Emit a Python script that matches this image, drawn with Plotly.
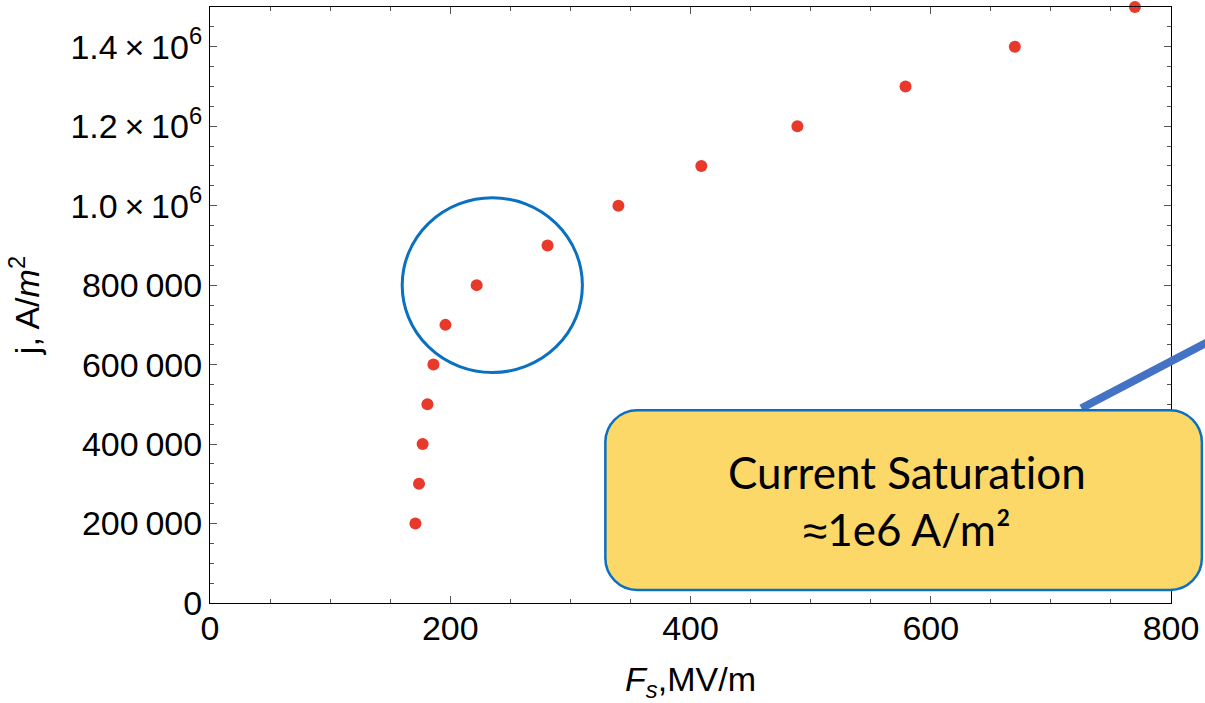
import plotly.graph_objects as go

# Emission current density versus surface field
field_mv_per_m = [171, 174, 177, 181, 186, 196, 222, 281, 340, 409, 489, 579, 670, 770]
current_density = [200000, 300000, 400000, 500000, 600000, 700000, 800000, 900000,
                   1000000, 1100000, 1200000, 1300000, 1400000, 1500000]

x_ticks = [0, 200, 400, 600, 800]
x_tick_text = ["0", "200", "400", "600", "800"]
y_ticks = [0, 200000, 400000, 600000, 800000, 1000000, 1200000, 1400000]
y_tick_text = ["0", "200\u2009000", "400\u2009000", "600\u2009000", "800\u2009000",
               "1.0\u2009×\u200910<sup>6</sup>", "1.2\u2009×\u200910<sup>6</sup>",
               "1.4\u2009×\u200910<sup>6</sup>"]

# Region that is circled: the knee of the curve
knee_x = [160, 310]
knee_y = [580000, 1020000]

W, H = 1205, 703
ML, MR, MT, MB = 210, 30, 6, 100
PW, PH = W - ML - MR, H - MT - MB


def px(xp):
    return (xp - ML) / PW


def py(yp):
    return (H - MB - yp) / PH


TICK_FONT = dict(family="Liberation Sans, Arial, sans-serif", size=34, color="black")

fig = go.Figure()
fig.add_trace(go.Scatter(
    x=field_mv_per_m, y=current_density, mode="markers",
    marker=dict(color="#E8392B", size=12, line=dict(width=0)),
    showlegend=False, cliponaxis=False,
))

axis_common = dict(
    showgrid=False, zeroline=False, showline=True, linecolor="black", linewidth=1,
    mirror="ticks", ticks="inside", ticklen=7, tickwidth=1, tickcolor="#555555",
    tickfont=TICK_FONT,
)

fig.update_xaxes(
    range=[0, 800], tickvals=x_ticks, ticktext=x_tick_text,
    minor=dict(dtick=50, ticks="inside", ticklen=4, tickcolor="#555555", tickwidth=1),
    ticklabelstandoff=-5,
    title=dict(text="<i>F</i><sub><i>s</i></sub>,MV/m",
               font=dict(family="Liberation Sans, Arial, sans-serif", size=34, color="black"),
               standoff=22),
    **axis_common,
)
fig.update_yaxes(
    range=[0, 1500000], tickvals=y_ticks, ticktext=y_tick_text,
    minor=dict(dtick=50000, ticks="inside", ticklen=4, tickcolor="#555555", tickwidth=1),
    ticklabelstandoff=0,
    title=dict(text="j, A/<i>m</i><sup>2</sup>",
               font=dict(family="Liberation Sans, Arial, sans-serif", size=34, color="black"),
               standoff=20),
    **axis_common,
)

shapes = []
# circle around the knee
shapes.append(dict(type="circle", xref="x", yref="y",
                   x0=knee_x[0], x1=knee_x[1], y0=knee_y[0], y1=knee_y[1],
                   line=dict(color="#0A70C0", width=3), layer="above"))

# connector line leading out of the callout
shapes.append(dict(type="line", xref="paper", yref="paper",
                   x0=px(1085), y0=py(408), x1=px(1232), y1=py(331),
                   line=dict(color="#4472C4", width=8), layer="above"))

# rounded callout box
bx0, bx1, by0, by1 = px(607), px(1206), py(590), py(410)
rx, ry = 32 / PW, 32 / PH
k = 0.5523
path = (
    f"M {bx0 + rx},{by1} L {bx1 - rx},{by1} "
    f"C {bx1 - rx + k * rx},{by1} {bx1},{by1 - ry + k * ry} {bx1},{by1 - ry} "
    f"L {bx1},{by0 + ry} "
    f"C {bx1},{by0 + ry - k * ry} {bx1 - rx + k * rx},{by0} {bx1 - rx},{by0} "
    f"L {bx0 + rx},{by0} "
    f"C {bx0 + rx - k * rx},{by0} {bx0},{by0 + ry - k * ry} {bx0},{by0 + ry} "
    f"L {bx0},{by1 - ry} "
    f"C {bx0},{by1 - ry + k * ry} {bx0 + rx - k * rx},{by1} {bx0 + rx},{by1} Z"
)
shapes.append(dict(type="path", xref="paper", yref="paper", path=path,
                   fillcolor="#FCD869", line=dict(color="#0A70C0", width=2.5),
                   layer="above"))

callout_text = ("Current Saturat\u200cion<br>"
                "<span style=\"font-family:'Liberation Sans'\">≈</span>1e6 A/m²")

fig.update_layout(
    width=W, height=H,
    margin=dict(l=ML, r=MR, t=MT, b=MB),
    paper_bgcolor="white", plot_bgcolor="white",
    shapes=shapes,
    annotations=[dict(
        xref="paper", yref="paper", x=px(910), y=py(500),
        text=callout_text,
        showarrow=False, align="center", xanchor="center", yanchor="middle",
        font=dict(family="Lato, Carlito, sans-serif", size=44, color="black"),
    )],
)

fig.write_html("out.html")
